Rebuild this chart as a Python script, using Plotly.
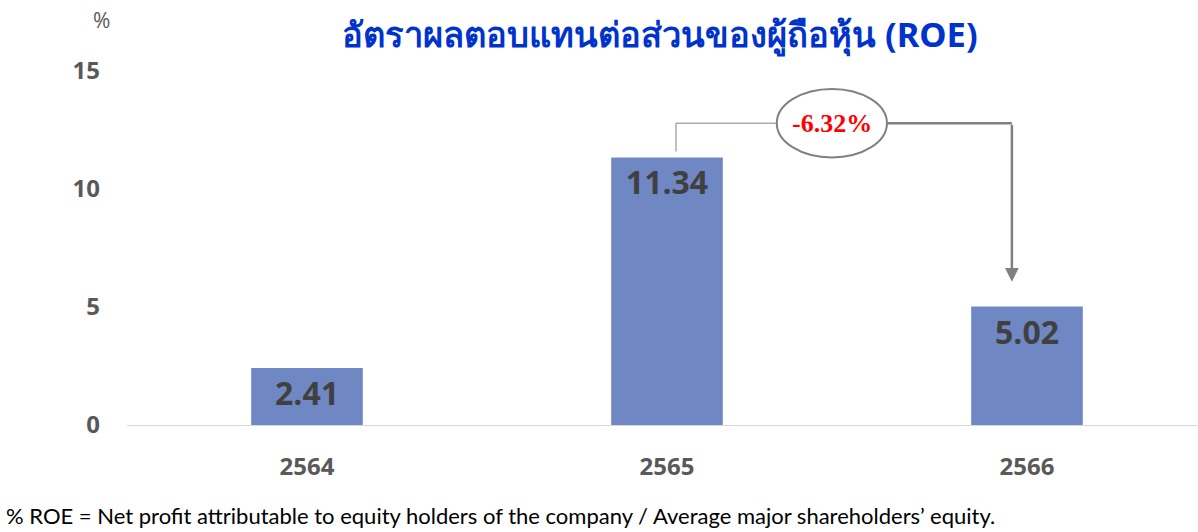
import plotly.graph_objects as go

categories = ["2564", "2565", "2566"]
roe_values = [2.41, 11.34, 5.02]
value_labels = ["2.41", "11.34", "5.02"]
change_label = "-6.32%"
y_ticks = [0, 5, 10, 15]
title_text = "อัตราผลตอบแทนต่อส่วนของผู้ถือหุ้น (ROE)"
footnote_text = "% ROE = Net profit attributable to equity holders of the company / Average major shareholders’ equity."

bar_color = "#6F88C4"
gray_text = "#595959"

fig = go.Figure()
fig.add_trace(go.Bar(
    x=list(range(len(categories))),
    y=roe_values,
    text=value_labels,
    textposition="inside",
    insidetextanchor="end",
    textfont=dict(family="Open Sans", size=32, color="#404040", weight="bold"),
    marker=dict(color=bar_color, line=dict(width=0)),
    width=0.31,
    hoverinfo="skip",
))

i_from, i_to = 1, 2
y_from, y_to = roe_values[i_from], roe_values[i_to]
top_y = y_from + 1.45
left_x = i_from + 0.025
right_x = i_to - 0.042
ell_cx = (i_from + i_to) / 2 - 0.042
ell_hw = 0.153
ell_hh = 1.45

fig.add_shape(type="path",
              path=f"M {left_x} {y_from + 0.25} L {left_x} {top_y} L {ell_cx - ell_hw} {top_y}",
              line=dict(color="#808080", width=1), xref="x", yref="y")
fig.add_shape(type="path",
              path=f"M {ell_cx + ell_hw} {top_y} L {right_x} {top_y}",
              line=dict(color="#808080", width=2.5), xref="x", yref="y")
fig.add_annotation(x=right_x, y=y_to + 1.05, ax=right_x, ay=top_y,
                   xref="x", yref="y", axref="x", ayref="y",
                   showarrow=True, arrowhead=2, arrowsize=1.1, arrowwidth=2.5,
                   arrowcolor="#808080", text="")
fig.add_shape(type="circle", x0=ell_cx - ell_hw, x1=ell_cx + ell_hw,
              y0=top_y - ell_hh, y1=top_y + ell_hh,
              line=dict(color="#808080", width=2), fillcolor="white",
              xref="x", yref="y")
fig.add_annotation(x=ell_cx, y=top_y, xref="x", yref="y", text=change_label,
                   showarrow=False,
                   font=dict(family="Liberation Serif", size=26, color="#FF0000", weight="bold"))

W, H = 1198, 532
L, R, T, B = 127, 0, 71, 107
pw, ph = W - L - R, H - T - B


def px(xp, yp):
    return (xp - L) / pw, (H - B - yp) / ph


tx, ty = px(660, 33)
fig.add_annotation(x=tx, y=ty, xref="paper", yref="paper", text=title_text, showarrow=False,
                   xanchor="center", yanchor="middle",
                   font=dict(family="Noto Sans, Lato, sans-serif", size=34.5, color="#0033CC", weight="bold"))
tx, ty = px(101, 20)
fig.add_annotation(x=tx, y=ty, xref="paper", yref="paper", text="%", showarrow=False,
                   xanchor="center", yanchor="middle",
                   font=dict(family="Open Sans", size=21, color=gray_text))
tx, ty = px(4, 515)
fig.add_annotation(x=tx, y=ty, xref="paper", yref="paper", text=footnote_text, showarrow=False,
                   xanchor="left", yanchor="middle",
                   font=dict(family="Lato", size=22, color="#000000"))

fig.update_layout(
    width=W, height=H,
    margin=dict(l=L, r=R, t=T, b=B),
    plot_bgcolor="white", paper_bgcolor="white",
    showlegend=False,
    xaxis=dict(
        range=[-0.5, 2.475],
        tickmode="array", tickvals=list(range(len(categories))), ticktext=categories,
        tickfont=dict(family="Open Sans", size=24, color=gray_text, weight="bold"),
        showgrid=False, zeroline=False,
        showline=True, linecolor="#D9D9D9", linewidth=1,
        ticks="", ticklabelstandoff=20,
    ),
    yaxis=dict(
        range=[0, 15],
        tickmode="array", tickvals=y_ticks,
        tickfont=dict(family="Open Sans", size=24, color=gray_text, weight="bold"),
        showgrid=False, zeroline=False, showline=False, ticks="",
        ticklabelstandoff=26,
    ),
)

fig.write_html("out.html", config={"displayModeBar": False},
               post_script="document.body.style.margin='0';")
